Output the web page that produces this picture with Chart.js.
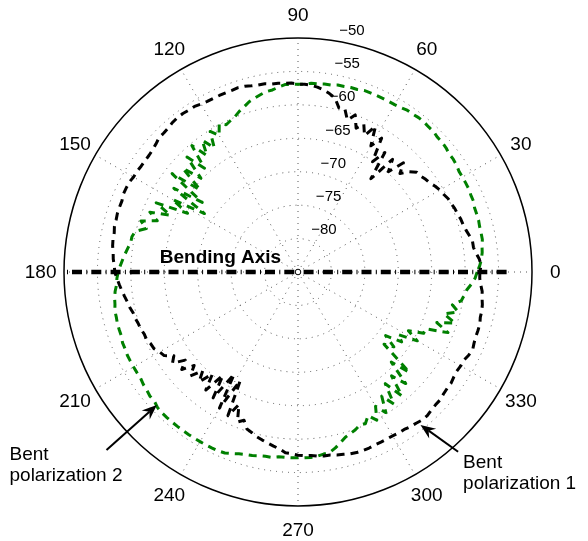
<!DOCTYPE html>
<html>
<head>
<meta charset="utf-8">
<title>Bent polarization pattern</title>
<script src="https://cdn.jsdelivr.net/npm/chart.js@4.4.0/dist/chart.umd.min.js"></script>
<style>
  html, body { margin: 0; padding: 0; background: #fff; }
  canvas { display: block; }
</style>
</head>
<body>
<canvas id="polarChart" width="588" height="541"></canvas>
<script>
// samples every 2 degrees, counter-clockwise from 0 (right), values in dB
const angleStep = 2;

// black curve - "Bent polarization 1"
const pol1 = [
  -57.8, -57.6, -57.8, -58.2, -58.5, -58.5, -58.8, -59.1, -59.3, -59.4, -59.6, -59.7, -59.9, -60.0, -60.3, -60.5, -60.8, -61.2,
  -61.4, -61.7, -61.8, -62.6, -63.8, -62.3, -64.8, -63.0, -67.3, -62.9, -65.1, -61.4, -63.2, -60.3, -62.3, -60.8, -61.8, -60.0,
  -61.1, -59.6, -59.7, -58.4, -57.9, -57.5, -57.2, -57.0, -56.9,
  -56.9, -56.7, -56.7, -56.6, -56.6, -56.4, -56.4, -56.3, -56.1, -56.0, -56.1, -56.1, -56.1, -56.1, -56.1,
  -56.0, -55.8, -55.8, -55.7, -55.7, -55.8, -56.0, -56.1, -56.1, -56.4, -56.6, -56.7, -56.7, -56.7, -56.6,
  -56.6, -56.4, -56.4, -56.4, -56.6, -56.6, -56.6, -56.7, -56.7, -56.9, -56.9, -57.0, -57.2, -57.3, -57.5,
  -57.6, -57.9, -58.2, -58.5, -58.8, -59.1, -59.3, -59.6, -59.7, -59.9, -60.0, -60.2, -60.2, -60.5, -60.6,
  -61.1, -61.4, -62.6, -61.8, -63.6, -62.3, -64.1, -62.6, -64.5, -62.9, -65.1, -62.6, -65.9, -62.3, -67.0,
  -61.5, -66.6, -61.1, -63.3, -60.8, -61.4, -60.3, -60.0, -59.6, -59.3, -59.0, -58.7, -58.4, -57.9, -57.8,
  -57.6, -57.5, -57.5, -57.3, -57.2, -57.2, -57.0, -56.9, -56.7, -56.6, -56.6, -56.6, -56.7, -56.7, -56.7,
  -56.7, -56.6, -56.6, -56.4, -56.3, -56.1, -56.1, -56.3, -56.4, -56.4, -56.6, -56.7, -56.7, -56.9, -57.0,
  -56.9, -56.9, -56.6, -56.4, -56.6, -56.7, -56.7, -56.7, -56.9, -56.9, -57.0, -57.2, -57.3, -57.6, -57.8
];

// green curve - "Bent polarization 2"
const pol2 = [
  -58.2, -57.8, -57.5, -57.3, -57.2, -57.0, -57.0, -57.0, -56.9, -56.9, -56.9, -56.7, -56.7, -56.6, -56.6,
  -56.6, -56.6, -56.4, -56.3, -56.3, -56.1, -56.0, -56.0, -55.8, -55.8, -55.7, -55.7, -55.8, -55.8, -56.0,
  -56.1, -56.1, -56.1, -56.1, -56.1, -56.1, -56.3, -56.3, -56.4, -56.4, -56.6, -56.6, -56.7, -56.7, -56.9,
  -56.9, -56.9, -56.9, -57.2, -57.5, -57.6, -57.9, -58.2, -58.5, -59.0, -59.4, -59.9, -60.2, -60.5, -59.9,
  -61.4, -60.2, -62.6, -60.6, -62.9, -60.3, -64.1, -61.1, -64.8, -61.8, -65.9, -61.1, -67.3, -62.6, -68.5,
  -63.3, -66.3, -61.4, -64.1, -61.1, -62.6, -60.3, -61.4, -59.9, -59.6, -59.6, -59.3, -59.0, -58.7, -58.4,
  -58.1, -57.9, -57.8, -57.5, -57.3, -57.2, -57.0, -57.0, -56.9, -56.9, -56.9, -56.7, -56.7, -56.6, -56.6,
  -56.6, -56.6, -56.6, -56.4, -56.3, -56.1, -56.1, -55.8, -55.7, -55.7, -55.7, -55.7, -55.7, -55.7, -55.7,
  -55.7, -55.7, -55.7, -55.7, -55.8, -56.1, -56.4, -56.6, -56.7, -56.9, -57.0, -57.0, -57.2, -57.2, -57.2,
  -57.2, -57.2, -57.2, -57.3, -57.5, -57.6, -58.1, -58.7, -59.3, -59.6, -59.9, -60.3, -60.2, -61.1, -59.9,
  -61.8, -60.2, -62.6, -60.6, -63.8, -60.8, -64.1, -61.8, -65.6, -62.6, -68.2, -66.8, -68.8, -66.3, -67.3,
  -64.4, -66.3, -64.1, -64.1, -60.8, -62.9, -60.3, -62.3, -60.3, -61.4, -60.2, -59.9, -59.6, -59.0, -58.5
];

const angleTicks = [0, 30, 60, 90, 120, 150, 180, 210, 240, 270, 300, 330];
const radialTicks = [-80, -75, -70, -65, -60, -55, -50];
const rMin = -85;
const rMax = -50;

// bending axis: right end, centre marker, left end
const axisAngles = [0, 270, 180];
const axisValues = [-53.8, -85, -50];

// annotations (angle in degrees, value in dB)
const arrows = [
  { lines: ['Bent', 'polarization 1'], tip: [308.7, -55.7], tail: [311.7, -49.0], dx: 5, dy: 16 },
  { lines: ['Bent', 'polarization 2'], tip: [223.3, -56.0], tail: [222.9, -45.9], dx: -97, dy: 10 }
];
const axisTitle = { text: 'Bending Axis', at: [169.4, -73.2] };

const FONT = '"Liberation Sans", Arial, Helvetica, sans-serif';

// radar goes clockwise from startAngle, so index i sits at -i*step degrees
const labels = pol1.map((_, i) => String((360 - i * angleStep) % 360));
const reorder = arr => arr.map((_, i) => arr[(arr.length - i) % arr.length]);
const axisData = labels.map(l => {
  const k = axisAngles.indexOf(Number(l));
  return k < 0 ? null : axisValues[k];
});

function polarXY(scale, theta, value) {
  const d = scale.getDistanceFromCenterForValue(value);
  const a = theta * Math.PI / 180;
  return { x: scale.xCenter + d * Math.cos(a), y: scale.yCenter - d * Math.sin(a) };
}

function drawArrow(ctx, from, to) {
  const a = Math.atan2(to.y - from.y, to.x - from.x);
  const c = Math.cos(a), s = Math.sin(a);
  const len = 15, half = 6, notch = 10;
  ctx.lineWidth = 2;
  ctx.beginPath();
  ctx.moveTo(from.x, from.y);
  ctx.lineTo(to.x - notch * c, to.y - notch * s);
  ctx.stroke();
  ctx.beginPath();
  ctx.moveTo(to.x, to.y);
  ctx.lineTo(to.x - len * c + half * s, to.y - len * s - half * c);
  ctx.lineTo(to.x - notch * c, to.y - notch * s);
  ctx.lineTo(to.x - len * c - half * s, to.y - len * s + half * c);
  ctx.closePath();
  ctx.fill();
}

// dash-dot for the axis, followed by a long gap so the radar loop-back stays hidden
function axisDash(c) {
  const s = c.chart.scales && c.chart.scales.r;
  let len = 443;
  if (s && s.drawingArea) {
    len = s.getDistanceFromCenterForValue(axisValues[0]) + s.getDistanceFromCenterForValue(axisValues[2]);
  }
  const pat = [];
  let sum = 0;
  while (sum < len) {
    pat.push(10, 4, 1, 4.3);
    sum += 19.3;
  }
  pat[pat.length - 1] += len * 1.5;
  return pat;
}

const polarDecor = {
  id: 'polarDecor',
  afterDraw(chart) {
    const r = chart.scales.r;
    const ctx = chart.ctx;
    ctx.save();
    ctx.fillStyle = '#000';
    ctx.strokeStyle = '#000';

    // angle labels, centred at 1.1 x outer radius
    ctx.font = '19px ' + FONT;
    ctx.textAlign = 'center';
    ctx.textBaseline = 'middle';
    angleTicks.forEach(t => {
      const a = t * Math.PI / 180;
      const d = r.drawingArea * 1.1;
      ctx.fillText(String(t), r.xCenter + d * Math.cos(a), r.yCenter - d * Math.sin(a) + 1);
    });

    // radial tick labels at 82 degrees
    ctx.font = '15px ' + FONT;
    ctx.textAlign = 'left';
    ctx.textBaseline = 'bottom';
    const pad = ctx.measureText('  ').width;
    radialTicks.forEach(v => {
      const p = polarXY(r, 82, v + 0.25);
      ctx.fillText('\u2212' + Math.abs(v), p.x + pad, p.y);
    });

    // bending axis title
    ctx.font = 'bold 19px ' + FONT;
    ctx.textAlign = 'center';
    ctx.textBaseline = 'middle';
    const tp = polarXY(r, axisTitle.at[0], axisTitle.at[1]);
    ctx.fillText(axisTitle.text, tp.x, tp.y);

    // arrows with their labels
    ctx.font = '19px ' + FONT;
    ctx.textAlign = 'left';
    ctx.textBaseline = 'alphabetic';
    arrows.forEach(ar => {
      const tip = polarXY(r, ar.tip[0], ar.tip[1]);
      const tail = polarXY(r, ar.tail[0], ar.tail[1]);
      drawArrow(ctx, tail, tip);
      ar.lines.forEach((line, i) => {
        ctx.fillText(line, tail.x + ar.dx, tail.y + ar.dy + i * 21);
      });
    });
    ctx.restore();
  }
};

const chart = new Chart(document.getElementById('polarChart'), {
  type: 'radar',
  data: {
    labels: labels,
    datasets: [
      {
        label: 'Bending Axis',
        data: axisData,
        spanGaps: true,
        borderColor: '#000',
        borderWidth: 4.5,
        borderDash: axisDash,
        fill: false,
        pointRadius: c => (c.raw === rMin ? 2.8 : 0),
        pointBackgroundColor: '#fff',
        pointBorderColor: '#000',
        pointBorderWidth: 1
      },
      {
        label: 'Bent polarization 1',
        data: reorder(pol1),
        borderColor: '#000',
        borderWidth: 3,
        borderDash: [8, 6],
        borderJoinStyle: 'round',
        fill: false,
        pointRadius: 0
      },
      {
        label: 'Bent polarization 2',
        data: reorder(pol2),
        borderColor: '#008000',
        borderWidth: 3,
        borderDash: [8, 6],
        borderJoinStyle: 'round',
        fill: false,
        pointRadius: 0
      }
    ]
  },
  options: {
    responsive: false,
    animation: false,
    devicePixelRatio: 1,
    events: [],
    layout: { padding: { left: 64, right: 56, top: 38, bottom: 35 } },
    elements: { line: { tension: 0 } },
    plugins: {
      legend: { display: false },
      tooltip: { enabled: false }
    },
    scales: {
      r: {
        min: rMin,
        max: rMax,
        startAngle: 90,
        ticks: { display: false, stepSize: 5 },
        pointLabels: { display: false },
        grid: {
          circular: true,
          color: c => (c.tick && c.tick.value === rMax ? '#000' : '#555'),
          lineWidth: c => (c.tick && c.tick.value === rMax ? 1.5 : 1)
        },
        border: {
          dash: c => (c.tick && c.tick.value === rMax ? [] : [1, 5])
        },
        angleLines: {
          color: '#555',
          lineWidth: c => (Number(c.label) % 30 === 0 ? 1 : 0),
          borderDash: [1, 5]
        }
      }
    }
  },
  plugins: [polarDecor]
});
</script>
</body>
</html>
